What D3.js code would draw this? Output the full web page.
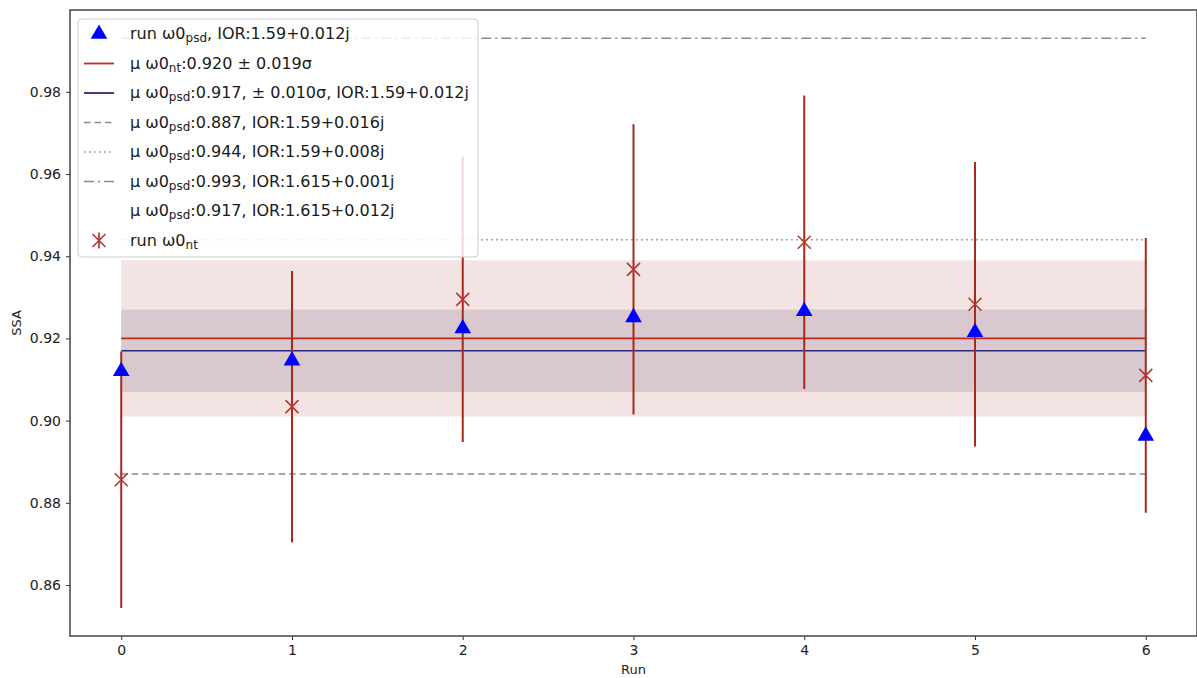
<!DOCTYPE html>
<html><head><meta charset="utf-8">
<script src="https://cdn.jsdelivr.net/npm/d3@7"></script>
<style>body{margin:0;background:#fff}svg{display:block;font-family:"DejaVu Sans",sans-serif}</style>
</head><body><svg id="c" width="1197" height="678"></svg>
<script>
const runs = [0,1,2,3,4,5,6];
const psdValues = [0.9120,0.9146,0.9224,0.9251,0.9266,0.9215,0.8963];
const ntValues = [0.8856,0.9034,0.9295,0.9368,0.9434,0.9283,0.9110];
const ntErr = [0.0312,0.0330,0.0347,0.0353,0.0357,0.0346,0.0334];
const meanNt = 0.920, sdNt = 0.019;
const meanPsd = 0.917, sdPsd = 0.010;
const refLines = [
  {v:0.887, style:"dashed"},
  {v:0.944, style:"dotted"},
  {v:0.993, style:"dashdot"}
];
const yTicks = [0.86,0.88,0.90,0.92,0.94,0.96,0.98];
const legendItems = [
  {kind:"tri", pre:"run ω0", sub:"psd", post:", IOR:1.59+0.012j"},
  {kind:"red", pre:"μ ω0", sub:"nt", post:":0.920 ± 0.019σ"},
  {kind:"blue", pre:"μ ω0", sub:"psd", post:":0.917, ± 0.010σ, IOR:1.59+0.012j"},
  {kind:"dashed", pre:"μ ω0", sub:"psd", post:":0.887, IOR:1.59+0.016j"},
  {kind:"dotted", pre:"μ ω0", sub:"psd", post:":0.944, IOR:1.59+0.008j"},
  {kind:"dashdot", pre:"μ ω0", sub:"psd", post:":0.993, IOR:1.615+0.001j"},
  {kind:"none", pre:"μ ω0", sub:"psd", post:":0.917, IOR:1.615+0.012j"},
  {kind:"err", pre:"run ω0", sub:"nt", post:""}
];

const svg = d3.select("#c");
const L=70, R=1197, T=10, B=636;
const x = d3.scaleLinear().domain([-0.3,6.3]).range([L,R]);
const y = d3.scaleLinear().domain([0.8476,0.9999]).range([B,T]);
const dashes = {dashed:"6.5,4", dotted:"1.5,3.5", dashdot:"10,4,2,4"};
const grey = "#8a8a8a";

const g = svg.append("g");
g.append("rect").attr("x",x(0)).attr("width",x(6)-x(0))
  .attr("y",y(meanNt+sdNt)).attr("height",y(meanNt-sdNt)-y(meanNt+sdNt))
  .attr("fill","#f3e3e2");
g.append("rect").attr("x",x(0)).attr("width",x(6)-x(0))
  .attr("y",y(meanPsd+sdPsd)).attr("height",y(meanPsd-sdPsd)-y(meanPsd+sdPsd))
  .attr("fill","#d9c8cd");
g.append("line").attr("x1",x(0)).attr("x2",x(6)).attr("y1",y(meanNt)).attr("y2",y(meanNt))
  .attr("stroke","#c0281e").attr("stroke-width",1.8);
g.append("line").attr("x1",x(0)).attr("x2",x(6)).attr("y1",y(meanPsd)).attr("y2",y(meanPsd))
  .attr("stroke","#2a2a7a").attr("stroke-width",1.6);
refLines.forEach(r=>{
  g.append("line").attr("x1",x(0)).attr("x2",x(6)).attr("y1",y(r.v)).attr("y2",y(r.v))
   .attr("stroke",grey).attr("stroke-width",1.5).attr("stroke-dasharray",dashes[r.style]);
});
runs.forEach((r,i)=>{
  g.append("line").attr("x1",x(r)).attr("x2",x(r))
   .attr("y1",y(ntValues[i]-ntErr[i])).attr("y2",y(ntValues[i]+ntErr[i]))
   .attr("stroke","#a8281e").attr("stroke-width",2);
  const cx=x(r), cy=y(ntValues[i]), s=6.5;
  g.append("path").attr("d",`M${cx-s},${cy-s}L${cx+s},${cy+s}M${cx-s},${cy+s}L${cx+s},${cy-s}`)
   .attr("stroke","#b8392c").attr("stroke-width",1.6).attr("fill","none");
});
const tri = d3.symbol().type(d3.symbolTriangle).size(120);
runs.forEach((r,i)=>{
  g.append("path").attr("d",tri()).attr("transform",`translate(${x(r)},${y(psdValues[i])})`)
   .attr("fill","#0000ff");
});

const xa = svg.append("g").attr("transform",`translate(0,${B})`)
  .call(d3.axisBottom(x).tickValues(runs).tickFormat(d3.format("d")).tickSize(4).tickPadding(5));
const ya = svg.append("g").attr("transform",`translate(${L},0)`)
  .call(d3.axisLeft(y).tickValues(yTicks).tickFormat(d3.format(".2f")).tickSize(4).tickPadding(5));
[xa,ya].forEach(a=>{
  a.selectAll("text").attr("font-size",14).attr("fill","#222").attr("font-family","DejaVu Sans");
  a.selectAll(".tick line").attr("stroke","#333");
  a.select(".domain").remove();
});
svg.append("rect").attr("x",L).attr("y",T).attr("width",R-L).attr("height",B-T)
  .attr("fill","none").attr("stroke","#444").attr("stroke-width",1.5);
svg.append("text").attr("x",(L+R)/2).attr("y",674).attr("text-anchor","middle")
  .attr("font-size",13).attr("fill","#222").text("Run");
svg.append("text").attr("transform",`translate(21,${(T+B)/2}) rotate(-90)`).attr("text-anchor","middle")
  .attr("font-size",13).attr("fill","#222").text("SSA");

const lg = svg.append("g");
lg.append("rect").attr("x",78).attr("y",19).attr("width",400).attr("height",238).attr("rx",4)
  .attr("fill","#fff").attr("fill-opacity",0.82).attr("stroke","#cccccc");
legendItems.forEach((it,i)=>{
  const cy = 34 + i*29.5;
  const hx1=84, hx2=114, hc=99;
  if(it.kind==="tri"){
    lg.append("path").attr("d",tri()).attr("transform",`translate(${hc},${cy})`).attr("fill","#0000ff");
  } else if(it.kind==="red"){
    lg.append("line").attr("x1",hx1).attr("x2",hx2).attr("y1",cy).attr("y2",cy).attr("stroke","#c0281e").attr("stroke-width",1.8);
  } else if(it.kind==="blue"){
    lg.append("line").attr("x1",hx1).attr("x2",hx2).attr("y1",cy).attr("y2",cy).attr("stroke","#2a2a7a").attr("stroke-width",1.8);
  } else if(dashes[it.kind]){
    lg.append("line").attr("x1",hx1).attr("x2",hx2).attr("y1",cy).attr("y2",cy).attr("stroke",grey)
      .attr("stroke-width",1.5).attr("stroke-dasharray",dashes[it.kind]);
  } else if(it.kind==="err"){
    const s=6.5;
    lg.append("line").attr("x1",hc).attr("x2",hc).attr("y1",cy-8).attr("y2",cy+8).attr("stroke","#a8281e").attr("stroke-width",1.6);
    lg.append("path").attr("d",`M${hc-s},${cy-s}L${hc+s},${cy+s}M${hc-s},${cy+s}L${hc+s},${cy-s}`)
      .attr("stroke","#b8392c").attr("stroke-width",1.6);
  }
  const t = lg.append("text").attr("x",130).attr("y",cy+5).attr("font-size",16).attr("fill","#1a1a1a");
  t.append("tspan").text(it.pre);
  t.append("tspan").attr("font-size",12).attr("dy",3).text(it.sub);
  if(it.post) t.append("tspan").attr("dy",-3).text(it.post);
});
</script></body></html>
